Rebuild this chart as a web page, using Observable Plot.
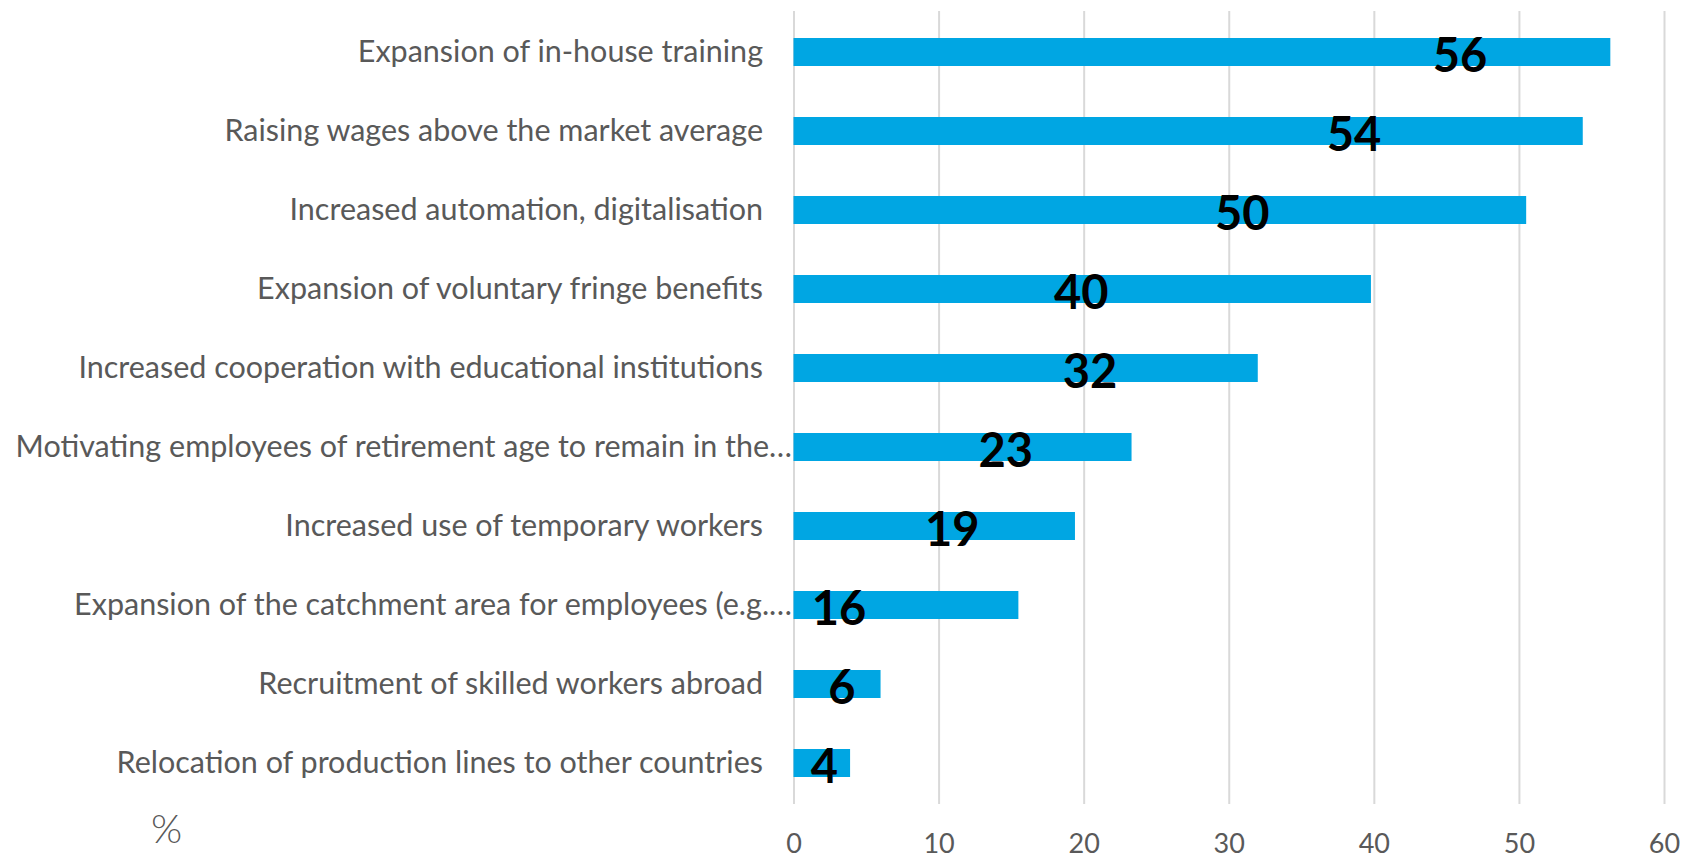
<!DOCTYPE html>
<html>
<head>
<meta charset="utf-8">
<script src="https://cdn.jsdelivr.net/npm/d3@7"></script>
<script src="https://cdn.jsdelivr.net/npm/@observablehq/plot@0.6"></script>
<style>
  html, body { margin: 0; padding: 0; background: #fff; }
  #chart svg { display: block; }
</style>
</head>
<body>
<div id="chart"></div>
<script>
const categories = [
  "Expansion of in-house training",
  "Raising wages above the market average",
  "Increased automation, digitalisation",
  "Expansion of voluntary fringe benefits",
  "Increased cooperation with educational institutions",
  "Motivating employees of retirement age to remain in the…",
  "Increased use of temporary workers",
  "Expansion of the catchment area for employees (e.g.…",
  "Recruitment of skilled workers abroad",
  "Relocation of production lines to other countries"
];
const values = [56.3, 54.4, 50.5, 39.8, 32.0, 23.3, 19.4, 15.5, 6.0, 3.9];
const valueLabels = ["56", "54", "50", "40", "32", "23", "19", "16", "6", "4"];
// where each value label sits along the x scale (in %)
const labelAt = [45.9, 38.6, 30.9, 19.8, 20.4, 14.6, 10.9, 3.1, 3.3, 2.1];
const xTicks = [0, 10, 20, 30, 40, 50, 60];
const unitLabel = "%";

const rows = categories.map((c, i) => ({
  category: c, value: values[i], label: valueLabels[i], at: labelAt[i],
  truncated: c.endsWith("…")
}));

const font = "Lato, 'Open Sans', sans-serif";
const grey = "#595959";

const chart = Plot.plot({
  width: 1684,
  height: 859,
  marginLeft: 793.5,
  marginRight: 20,
  marginTop: 11,
  marginBottom: 55,
  style: { fontFamily: font, background: "#fff" },
  x: { domain: [0, 60], ticks: xTicks },
  y: { domain: categories, paddingInner: 0.65, paddingOuter: 0.325, axis: null },
  marks: [
    Plot.gridX(xTicks, { stroke: "#d9d9d9", strokeWidth: 2, strokeOpacity: 1 }),
    Plot.barX(rows, { x: "value", y: "category", fill: "#00a6e3" }),
    Plot.text(rows.filter(d => !d.truncated), {
      x: 0, y: "category", text: "category", textAnchor: "end", dx: -31,
      fontSize: 30.5, fill: grey
    }),
    Plot.text(rows.filter(d => d.truncated), {
      x: 0, y: "category", text: "category", textAnchor: "end", dx: -2,
      fontSize: 30.5, fill: grey
    }),
    Plot.text(rows, {
      x: "at", y: "category", text: "label", dy: 4,
      fontSize: 47, fontWeight: "bold", fill: "#000"
    }),
    Plot.axisX(xTicks, { tickSize: 0, tickPadding: 29, fontSize: 27, color: grey, label: null }),
    Plot.text([unitLabel], {
      frameAnchor: "bottom-left", textAnchor: "middle", lineAnchor: "middle",
      text: d => d, dx: -627.5, dy: 26,
      fontSize: 40, fontWeight: 300, fill: grey
    })
  ]
});
document.getElementById("chart").appendChild(chart);
</script>
</body>
</html>
